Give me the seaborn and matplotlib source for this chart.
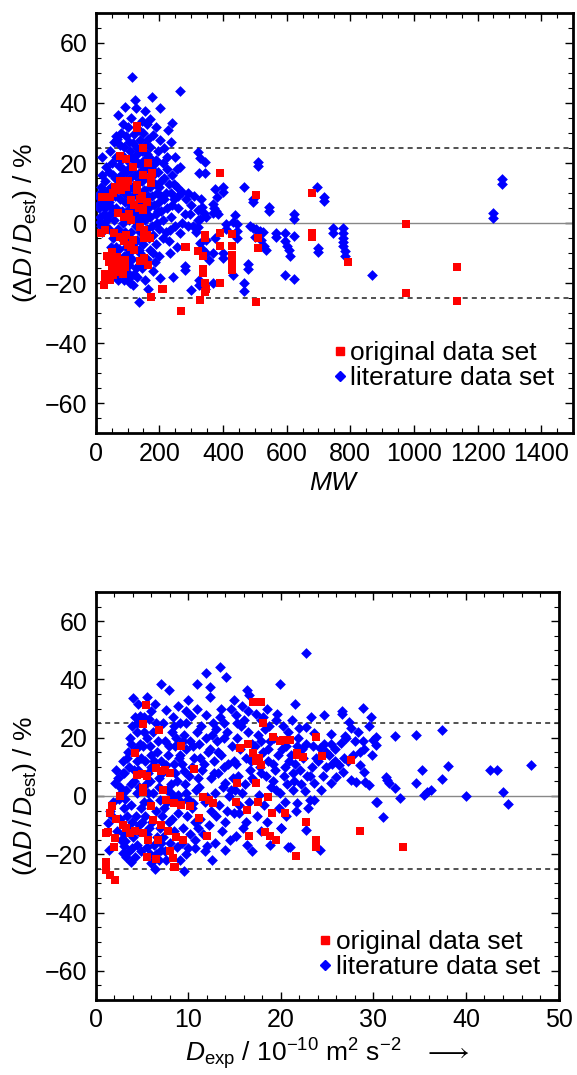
import matplotlib
matplotlib.use("Agg")
import matplotlib.pyplot as plt
import seaborn as sns
from matplotlib.ticker import MultipleLocator
from matplotlib.lines import Line2D

# ---------------- data: top panel (MW) ----------------
top_lit = [
    (510,20.3),(510,19.0),(493,8.0),(493,7.0),(545,5.3),(545,3.9),(623,3.0),(623,1.4),(694,12.0),(717,8.8),(717,7.2),
    (746,-1.8),(746,-3.2),(776,-1.8),(776,-3.4),(776,-4.9),(776,-6.2),(776,-7.5),(783,-9.2),(783,-10.9),(868,-17.4),
    (1249,3.2),(1249,1.6),(1276,14.6),(1276,12.9),(594,-3.4),(594,-17.3),(623,-18.5),(623,-4.4),(594,-6.0),(600,-7.5),
    (606,-9.0),(610,-11.0),(566,-3.3),(566,-4.8),(484,-1.0),(495,-1.5),(505,-2.0),(515,-2.5),(525,-3.0),(500,-4.5),
    (520,-5.5),(530,-7.5),(535,-9.0),(699,-8.2),(699,-9.8),
    (343,20.4),(343,16.8),(327,21.6),(400,12.1),(400,10.4),(374,11.2),(466,11.9),(368,6.5),(372,5.0),(378,4.0),(385,3.0),
    (381,8.8),(330,8.0),(335,5.5),(340,3.5),(327,1.5),(345,2.0),(321,4.3),(321,1.0),(321,-1.2),(370,3.2),(437,2.7),
    (432,0.4),(409,-0.4),(409,-2.0),(443,-0.4),(443,-2.6),(443,-4.9),(374,-4.9),(346,-5.7),(327,-6.6),(335,-8.5),
    (345,-10.0),(355,-12.3),(370,-10.1),(400,-10.0),(400,-11.5),(337,-21.0),(343,-22.0),(325,-19.0),(325,-20.5),
    (370,-19.9),(300,-22.3),(466,-20.1),(466,-22.6),(431,-17.2),(478,-13.8),(478,-15.2),
    (115,48.8),(264,44.1),(178,42.1),(122,41.0),(201,38.2),(70,36.0),(91,38.5),(154,37.4),(125,38.2),(172,34.5),
    (144,34.0),(160,33.0),(190,32.0),(241,33.2),(227,31.0),(180,29.3),(201,27.7),(235,27.1),(66,28.0),(80,30.0),
    (95,29.0),(105,27.0),(117,26.6),(85,33.0),(100,32.0),(110,35.0),(135,31.0),(150,30.0),(165,28.0),(140,27.5),
    (120,29.5),(75,26.0),(90,25.5),(130,25.0),(155,26.0),(170,25.5),(195,24.0),(215,25.0),(225,22.0),(210,20.0),
    (190,21.0),(250,22.0),(264,18.8),(321,23.6),(325,16.6),(45,24.0),(58,27.0),(65,29.0),(18,22.1),(33,18.8),(50,20.0),
    (8,9.0),(10,5.0),(12,2.0),(15,-1.0),(15,12.0),(20,16.0),(8,6.0),(12,0.5),(18,-3.0),(14,10.0),(22,7.0),(30,14.0),
    (38,11.0),(42,7.0),(28,5.0),(45,3.0),(35,1.0),(55,16.0),(48,12.0),(60,9.0),(52,5.0),(58,1.0),(40,-2.0),(55,-5.0),
    (65,22),(72,19),(78,16),(83,13),(88,10),(93,7),(98,4),(103,1),(68,12),(75,8),(82,4),(87,0),(92,-3),(97,21),
    (102,18),(108,15),(113,12),(118,9),(123,6),(128,3),(133,0),(138,-3),(106,24),(112,22),(118,19),(124,16),(130,13),
    (136,10),(142,7),(148,4),(154,1),(160,-2),(166,-5),(128,23),(134,20),(140,17),(146,14),(152,11),(158,8),(164,5),
    (170,2),(176,-1),(145,24),(152,21),(158,18),(164,15),(170,12),(176,9),(182,6),(188,3),(194,0),(168,22),(174,19),
    (180,16),(186,13),(192,10),(198,7),(204,4),(210,1),(185,20),(195,17),(200,12),(215,8),(225,5),(235,2),(60,15),(63,5),
    (85,18),(95,14),(105,9),(115,4),(125,-1),(90,22),(100,11),(110,6),(120,1),(135,14),(145,9),(155,5),(165,9),
    (175,14),(185,17),(150,19),(160,23),(120,21),(110,18),(95,17),(80,21),(70,15),(75,11),(140,2),(150,-3),(160,3),
    (170,6),(195,4),(205,9),(215,15),(225,18),(235,10),(245,13),(255,18),(260,9),(230,-6),(200,-2),(185,-13),
    (155,-19),(95,-8),(88,-11),(78,-13),(105,-14),(120,-17),(30,-1),(25,3),(35,6),(40,17),(48,-8),(25,10),
    (272,10.4),(240,16),(230,13),(255,12),(245,8),(220,10),(205,14),(260,5),(280,3),(290,-1),(300,6),(310,9),(290,10),
    (285,8),(295,3),(305,-1),(315,-3),(270,0),(250,-1),(240,6),
    (70,-2),(80,-5),(100,-6),(110,-3),(120,-8),(115,-12),(125,-15),(105,-10),(95,-13),(85,-15),(140,-10),(150,-7),
    (160,-12),(170,-9),(180,-4),(190,-7),(200,-11),(210,-5),(220,-3),(233,-2.3),(264,-3.4),(254,-7.9),(233,-10.1),
    (180,-10.1),(280,-14.3),(280,-15.7),(243,-17.9),(201,-18.4),(164,-21.8),(136,-26.2),(117,-20.7),(107,-18),
    (107,-20),(100,-16.5),(90,-19),(130,-18),(145,-15),(180,-16),(72,-8.5),(130,-5.7),(135,-9),(140,-13.5),
    (62,-18),(70,-19),(50,-16),(60,-10),(62,-8),
]
top_orig = [
    (128,32.3),(128,31.6),(147,24.9),(75,22.3),(96,21.2),(164,20.1),(117,18.6),(390,16.8),(178,16.6),(75,14),(85,13),
    (96,12),(128,12.7),(175,14.9),(175,13.4),(18,8.8),(44,8.8),(54,9.9),(128,11),(112,7.7),(120,6),(135,5),(150,4.3),
    (160,7),(70,3.2),(90,2),(110,1),(139,-1.2),(153,-2.3),(153,-3.4),(153,-5.1),(29,-2.3),(56,-3.2),(15,-3.4),
    (75,-4.6),(90,-6),(100,-7.3),(117,-5.5),(50,-9.6),(50,-12),(50,-14.6),(66,-11.2),(66,-13.4),(29,-16.8),
    (29,-17.9),(27,-20.7),(75,-14.6),(75,-16.2),(91,-12.3),(91,-14.6),(54,-17.3),(151,-11.8),(164,-14),(175,-24.6),
    (210,-22.1),(267,-29.2),(280,-7.9),(343,-3.9),(343,-5),(390,-3.3),(427,-3.7),(390,-7.5),(427,-7.8),(427,-10.6),
    (427,-12.2),(427,-13.9),(427,-15.6),(337,-11.1),(337,-16.7),(343,-19.8),(343,-22.8),(327,-25.6),(390,-19.9),
    (505,-26.3),(503,9.3),(509,-5),(509,-8.3),(679,10),(679,-3.3),(679,-4.7),(793,-12.9),(974,-0.3),(974,-23.2),
    (1136,-14.6),(1136,-25.9),(60,12),(80,11),(100,14),(150,16),(140,8),(145,9),(105,3),(95,-4),(110,-8),(120,-9),
    (160,-4),(170,-5),(40,-13),(45,-19),(85,-17),(35,-11),(285,-8.1),(322,-9.2),(338,-15.2),(348,-21.9),(207,-22),
    (138,-12.6),
]

# ---------------- data: bottom panel (D_exp) ----------------
bot_lit = [
    (1.5,-5),(1.3,-9.4),(1.8,-7),(2.2,8.9),(2.05,4.3),(2.5,-1),(2.8,1.5),(2.3,-12),(2.7,-15),(2.9,-19.6),(3.3,-21),
    (3.85,-22.5),(3.1,-17),(2.6,-8),(3.0,-4),(1.9,-2),(2.4,6),(2.9,12),(3.1,7.8),(1.44,-18.5),
    (3.5,15),(3.7,20),(3.9,24),(4.0,33.5),(4.6,31.7),(4.2,27),(4.5,22),(4.8,18),(3.6,10),(4.1,5),(4.4,1),(3.8,-3),
    (4.3,-7),(3.5,-11),(4.0,-14),(4.4,-16.8),(3.13,-15.6),(4.7,-10),(4.9,-4),(4.6,9),(4.9,13),(4.3,16),(3.4,13),
    (3.9,-18),(4.9,-19),(4.5,25),(4.8,27.5),(3.8,18),
    (5.5,34),(5.2,27),(6.4,31.7),(5.8,26.5),(6.2,22),(5.5,20),(5.9,17),(6.6,15),(5.3,12),(6.0,10),(6.8,6),(5.4,4),
    (6.2,1),(5.7,-2),(6.5,-5),(5.3,-7),(6.1,-9),(6.9,-11),(5.5,-13),(6.3,-16.8),(5.5,-17.5),(7.1,-18.5),(6.55,-19.9),
    (6.4,-25.1),(6.8,-22),(5.9,-20),(6.7,19),(5.1,17),(6.5,25),(5.6,8),(6.9,-1.5),(7.0,12),
    (7.1,38.6),(7.9,36.3),(7.6,29.5),(7.3,25),(8.2,22),(7.5,19),(8.6,17),(7.8,14),(8.4,11),(7.2,8),(8.8,5),(7.7,2),
    (8.3,-1),(7.4,-4),(8.9,-6),(7.9,-9),(8.5,-12),(7.3,-14),(8.0,-16),(8.8,-17.5),(9.07,-22.1),(9.5,-25.6),(8.7,20),
    (7.6,10.5),(8.1,4),(8.9,0.5),(7.5,-19),(8.3,27),
    (9.1,24.9),(10.9,38.4),(10.9,30),(10.3,27.4),(9.5,21),(10.2,19),(9.8,16),(10.6,13),(9.3,11),(10.1,7),(9.6,4),
    (10.8,2),(9.2,-2),(10.4,-4),(9.9,-7),(10.7,-9),(9.4,-11),(10.2,-13),(10.7,-15.1),(10.7,-17.9),(9.7,-20),(10.5,17),
    (9.1,14),(10.0,-1),(9.5,8.5),(10.9,22),(9.8,25),
    (11.95,42.2),(12.3,37.4),(12.3,34),(11.95,27.8),(11.4,24),(12.6,21),(11.2,18),(12.1,15),(12.8,12),(11.5,9),
    (12.4,6),(11.1,3),(12.9,1),(11.8,-2),(12.5,-5),(11.3,-8),(12.2,-10),(11.77,-19),(12.6,-21.9),(11.6,-13),
    (12.9,-16),(11.9,20),(12.7,25),(11.3,13),(12.0,-0.5),(12.8,8),
    (13.4,44.1),(14.1,40.9),(13.4,27.2),(14.6,30),(13.8,25),(14.2,22),(13.1,19),(14.7,17),(13.5,14),(14.3,11),
    (13.2,8),(14.8,6),(13.7,3),(14.4,0),(13.3,-3),(14.9,-6),(14.0,-9),(13.6,-12),(13.93,-18.5),(14.5,-15),(13.2,15),
    (14.0,4.5),(14.9,12),(13.9,20),
    (16.3,36.5),(16.6,34.6),(15.2,27.8),(16.0,26),(15.7,24),(16.4,22),(15.3,20),(16.9,18),(15.6,16),(16.2,13),
    (15.1,11),(16.7,9),(15.4,7),(16.1,4),(15.8,1),(16.6,-2),(15.5,-6),(16.2,-9),(15.2,-13.9),(16.3,-16.8),(16.9,-19),
    (15.9,-11),(16.8,12),(15.0,2),(16.4,29),(15.3,25),
    (17.35,28.3),(17.8,26),(18.3,23),(17.5,21),(18.8,19),(17.2,17),(18.1,15),(18.6,12),(17.7,10),(18.4,7),(17.1,5),
    (18.9,3),(17.6,0.5),(18.2,-3),(17.4,-7),(18.8,-16.8),(18.5,-9),(17.9,-12),(18.1,27),(17.3,13),(18.7,24),(17.9,8),
    (19.9,38.6),(20.05,-11.1),(20.95,-17.4),(20.4,-1.9),(19.9,0.9),(21.3,2.1),(20.0,-11),(20.8,-17.4),(19.5,26),
    (20.2,24),(20.8,22),(19.3,20),(20.6,17),(19.7,14),(20.9,12),(19.4,9),(20.3,7),(19.2,5),(20.7,4),(19.8,-4),
    (20.5,-7),(19.6,28),(20.1,16),(19.1,11),
    (21.5,31.7),(21.2,26),(22.75,48.9),(22.0,23.2),(22.75,23.8),(21.7,17),(22.3,16),(22.75,18),(21.5,11),(22.1,9),
    (22.8,7),(21.4,5),(22.6,1.8),(21.7,-2.5),(22.7,-11.6),(21.9,20),(22.4,13),(21.1,14),(22.9,-4),(21.3,8),
    (23.3,27),(24.7,27.8),(23.6,21.5),(23.5,17),(24.2,16.5),(24.7,18),(23.6,4.6),(23.1,-1.4),(23.6,-1.4),
    (24.2,-18.5),(24.9,15),(24.0,12),(23.4,10),(24.5,7),(23.8,13),(24.9,10),
    (25.45,21.2),(26.9,20.7),(25.4,18),(26.5,18.3),(26.6,29.1),(26.6,28),(25.2,14),(25.9,12),(26.3,10.5),(26.7,8.3),
    (25.45,4.3),(26.0,6.6),(25.5,11),(26.8,13),
    (27.4,25.5),(27.6,23.2),(28.9,30.3),(28.0,19),(28.9,19),(28.5,10.6),(29.0,8.3),(27.6,5.5),(28.1,4.9),(27.3,12),
    (27.8,14),(28.6,15),
    (29.7,27.2),(29.5,24),(30.0,19.2),(30.3,20.1),(29.0,16),(29.8,14),(30.3,17.5),(29.1,4.9),(29.5,3.8),(30.3,-1.9),
    (31.0,-7.3),(30.4,-2),
    (31.4,6.6),(31.5,5.5),(31.7,4.3),(32.3,2.6),(32.9,-0.8),(32.3,20.6),(34.6,20.9),(37.4,22.6),(34.6,4.3),(35.2,8.9),
    (37.4,5.7),(38.05,10.3),(35.5,0.3),(35.8,1.2),(36.2,2),(40.0,0),(42.55,8.9),(43.3,8.9),(44.0,1.4),(44.5,-2.7),
    (47.0,10.5),
    (2.6,3),(3.2,-1),(3.4,-7),(3.0,-13),(3.6,-19),(4.2,-21),(4.6,-12),(5.0,-9),(5.2,-2),(5.6,1),(5.9,5),(6.3,12),
    (6.0,14),(5.2,22),(4.4,12),(4.1,9),(3.8,4),(6.6,-14),(7.2,-7),(7.7,-2),(8.1,1),(8.6,8),(9.0,13),(7.9,17),(8.5,24),
    (9.4,19),(9.7,1),(10.4,10),(10.0,-18),(9.3,-16),(8.2,-8),(7.0,-16),(6.0,-23),(7.6,-22),(3.3,2),(2.9,8),(3.9,-9),
    (4.7,3),(5.8,-11),(6.8,3),(11.0,6),(11.7,11),(12.3,16),(13.0,23),(13.8,10),(14.6,2),(15.5,-3),(16.9,6),(17.8,19),
    (18.6,16),(19.5,2),(20.4,10),(21.6,-5),(22.2,4),(23.2,7),(24.3,2),(25.8,16),(27.0,20),(28.3,22),(14.2,-5),
    (13.0,-7),(12.0,-17),(11.0,-11),(10.5,-2.5),(13.5,30),(14.9,33),(10.0,33),(8.9,31),(6.0,29),(9.8,29),(15.8,31),
    (18.5,30),
]
bot_orig = [
    (5.4,31.2),(17.0,32.3),(17.9,32.3),(18.1,24.9),(5.1,24.7),(6.8,22.6),(9.2,17.1),(10.6,9.1),(15.55,16.6),
    (16.45,18),(17.0,14.6),(17.3,12),(17.9,10.5),(17.6,13),(19.15,20.3),(20.2,19.2),(21.0,19.2),(21.7,14),
    (17.35,4.3),(15.3,4.3),(4.2,14.6),(4.4,7.2),(5.0,7.5),(5.5,7.0),(6.55,9.5),(7.0,8.5),(7.5,9),(8.0,7.8),(5.1,2.6),
    (5.1,1.5),(7.3,2.1),(2.6,0),(1.7,-3.4),(11.6,-0.5),(12.2,-1.5),(12.7,-2.5),(15.2,-1.9),(18.6,-0.2),(16.3,-4.8),
    (17.5,-1.9),(7.6,-1.4),(8.4,-2.5),(9.2,-3.0),(10.2,-3.6),(6.0,-3.6),(1.5,-6),(2.2,-8),(2.9,-10),(3.7,-12.8),
    (1.15,-12.8),(2.05,-14.5),(3.3,-11),(4.2,-12),(5.1,-12.8),(6.2,-8.2),(7.0,-10),(7.8,-12),(8.7,-14),(9.4,-15),
    (5.65,-15),(8.0,-19),(8.3,-21.3),(8.5,-24.2),(2.0,-17.4),(5.5,-20.8),(11.2,-7.6),(12.0,-13.9),(16.6,-13.9),
    (18.25,-12.2),(18.8,-13.9),(19.5,-15),(21.6,-20.5),(19.0,-5.9),(1.08,-22.8),(1.08,-25.3),(1.58,-27),(2.05,-28.8),
    (1.33,-12.2),(6.73,-15.1),(6.48,-21.7),(8.6,-24.4),(22.7,-8.8),(23.75,-15.1),(23.75,-17.4),(28.6,-11.9),
    (33.2,-17.6),(20.4,-5.9),(23.8,20.3),(19.9,18.8),(21.7,14.6),(22.4,13.5),(24.4,13.7),(27.6,12.3),(9.43,-15.1),
]

mw_lit, dev_mw_lit = zip(*top_lit)
mw_orig, dev_mw_orig = zip(*top_orig)
d_lit, dev_d_lit = zip(*bot_lit)
d_orig, dev_d_orig = zip(*bot_orig)

legend_labels = ["original data set", "literature data set"]

# ---------------- style ----------------
sns.set_style("ticks")
plt.rcParams['font.family'] = ['Liberation Sans', 'DejaVu Sans']
plt.rcParams['mathtext.fontset'] = 'custom'
plt.rcParams['mathtext.rm'] = 'Liberation Sans'
plt.rcParams['mathtext.it'] = 'Liberation Sans:italic'
plt.rcParams['mathtext.bf'] = 'Liberation Sans:bold'
plt.rcParams['mathtext.fallback'] = 'stixsans'
for k in ('text.color', 'axes.labelcolor', 'xtick.color', 'ytick.color'):
    plt.rcParams[k] = 'black'

RED = '#ff0000'
BLUE = '#0000ff'
FS = 18

fig = plt.figure(figsize=(5.77, 10.75), dpi=100)
ax1 = fig.add_axes([0.166, 0.597, 0.827, 0.391])
ax2 = fig.add_axes([0.166, 0.0698, 0.802, 0.3795])


def draw(ax, xl, yl, xo, yo, leg_y):
    ax.axhline(0, color='#888888', lw=1.0, zorder=1)
    for v in (25, -25):
        ax.axhline(v, color='#333333', lw=1.2, ls=(0, (3, 2.5)), zorder=1)
    sns.scatterplot(x=list(xl), y=list(yl), ax=ax, marker='D', color=BLUE, s=30,
                    linewidth=0, zorder=3)
    sns.scatterplot(x=list(xo), y=list(yo), ax=ax, marker='s', color=RED, s=28,
                    linewidth=0, zorder=4)
    ax.set_ylim(-70, 70)
    ax.yaxis.set_major_locator(MultipleLocator(20))
    ax.yaxis.set_minor_locator(MultipleLocator(5))
    for sp in ax.spines.values():
        sp.set_linewidth(2.0)
        sp.set_color('black')
    ax.tick_params(which='both', direction='in', top=True, right=True, labelsize=FS, pad=6,
                   colors='black')
    ax.tick_params(which='major', length=6, width=1.0)
    ax.tick_params(which='minor', length=3.5, width=0.8)
    ax.set_ylabel(r"$(\Delta D\,/\,D_{\mathrm{est}})$ / %", fontsize=FS + 1, labelpad=4)
    handles = [Line2D([], [], marker='s', color=RED, ls='', ms=6),
               Line2D([], [], marker='D', color=BLUE, ls='', ms=5)]
    ax.legend(handles, legend_labels, loc='lower right', frameon=False,
              fontsize=FS + 1, handlelength=0.5, handletextpad=0.15,
              labelspacing=0.05, borderaxespad=0.3, bbox_to_anchor=(1.0, leg_y))


draw(ax1, mw_lit, dev_mw_lit, mw_orig, dev_mw_orig, 0.058)
ax1.set_xlim(0, 1500)
ax1.xaxis.set_major_locator(MultipleLocator(200))
ax1.xaxis.set_minor_locator(MultipleLocator(50))
ax1.set_xlabel(r"$MW$", fontsize=FS + 1, labelpad=4)

draw(ax2, d_lit, dev_d_lit, d_orig, dev_d_orig, 0.005)
ax2.set_xlim(0, 50)
ax2.xaxis.set_major_locator(MultipleLocator(10))
ax2.xaxis.set_minor_locator(MultipleLocator(2))
ax2.set_xlabel(r"$D_{\mathrm{exp}}$ / 10$^{-10}$ m$^2$ s$^{-2}$   $\longrightarrow$", fontsize=FS + 1, labelpad=3)

fig.savefig("out.png", dpi=100)
